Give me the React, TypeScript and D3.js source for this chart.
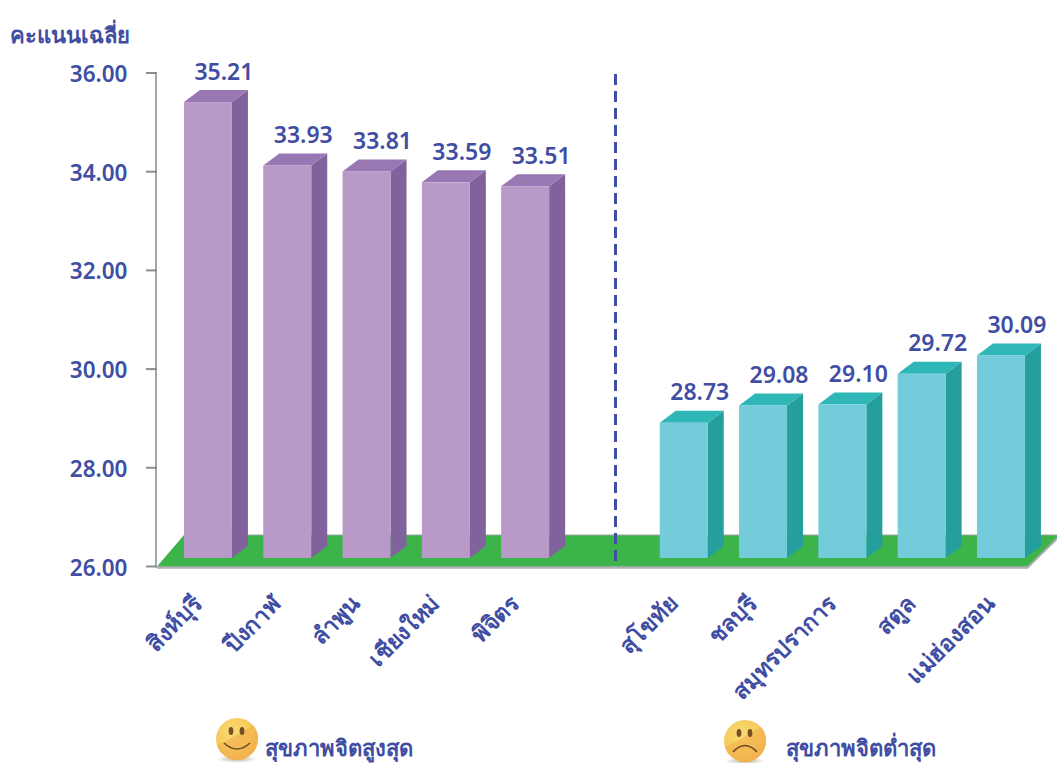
import React from "react";
import * as d3 from "d3";

const categories = ["สิงห์บุรี", "ปีงกาฬ", "ลำพูน", "เชียงใหม่", "พิจิตร", "", "สุโขทัย", "ชลบุรี", "สมุทรปราการ", "สตูล", "แม่ฮ่องสอน"];
const values: (number | null)[] = [35.21, 33.93, 33.81, 33.59, 33.51, null, 28.73, 29.08, 29.1, 29.72, 30.09];
const yTicks = [26, 28, 30, 32, 34, 36];
const yTitle = "คะแนนเฉลี่ย";
const legendHigh = "สุขภาพจิตสูงสุด";
const legendLow = "สุขภาพจิตต่ำสุด";

const W = 1057, H = 763;
const TEXT = "#3F4EA3";
const FONT = "'Noto Sans', 'Open Sans', sans-serif";
const DX = 11.3; // bar inset on the floor
const SX = 16, SY = -12; // bar depth

const x = d3.scaleBand<number>().domain(d3.range(categories.length)).range([157, 1029.3]).paddingInner(0.395).paddingOuter(0.1975);
const y = d3.scaleLinear().domain([26, 36]).range([566.5, 73]);
const barY = d3.scaleLinear().domain([26, 36]).range([558, 63]);

const pts = (a: number[][]) => a.map((p) => p.join(",")).join(" ");

function Smiley({ cx, cy, id, happy }: { cx: number; cy: number; id: string; happy: boolean }) {
  return (
    <g>
      <defs>
        <radialGradient id={id} cx="0.4" cy="0.35" r="0.75">
          <stop offset="0" stopColor="#F8DC72" />
          <stop offset="0.6" stopColor="#F6C95A" />
          <stop offset="1" stopColor="#EE9C3A" />
        </radialGradient>
        <radialGradient id={id + "s"}>
          <stop offset="0" stopColor="#8a7a60" stopOpacity="0.6" />
          <stop offset="1" stopColor="#8a7a60" stopOpacity="0" />
        </radialGradient>
      </defs>
      <ellipse cx={cx} cy={cy + 20} rx={20} ry={4} fill={`url(#${id}s)`} />
      <circle cx={cx} cy={cy} r={21} fill={`url(#${id})`} />
      <path d={`M${cx - 20},${cy + 6} Q${cx - 2},${cy - 2} ${cx + 16},${cy - 14} A21,21 0 0 1 ${cx + 20},${cy + 6} A21,21 0 0 1 ${cx - 20},${cy + 6}Z`} fill="#F3B451" opacity={0.75} />
      <ellipse cx={cx - 6} cy={cy - 8} rx={2.4} ry={4} fill="#7A4E26" />
      <ellipse cx={cx + 5} cy={cy - 8} rx={2.4} ry={4} fill="#7A4E26" />
      <path
        d={happy ? `M${cx - 13},${cy + 4} Q${cx},${cy + 16} ${cx + 13},${cy + 4}` : `M${cx - 12},${cy + 11} Q${cx},${cy - 2} ${cx + 12},${cy + 11}`}
        fill="none"
        stroke="#6B4A26"
        strokeWidth={1.5}
      />
    </g>
  );
}

export default function App() {
  const floorFrontY = y(26);
  return (
    <svg width={W} height={H} viewBox={`0 0 ${W} ${H}`} style={{ position: "absolute", left: 0, top: 0, background: "#fff" }} fontFamily={FONT}>
      {/* floor */}
      <polygon points={pts([[157, floorFrontY + 2], [1028, floorFrontY + 2], [1057, 540], [1057, 536], [184, 536]])} fill="#A9A9A9" />
      <polygon points={pts([[157, floorFrontY], [1027, floorFrontY], [1057, 537], [1057, 535], [184, 535]])} fill="#3CB44A" />
      <line x1={157} x2={1028} y1={floorFrontY + 1} y2={floorFrontY + 1} stroke="#B0B0B0" strokeWidth={2} />
      <line x1={184} x2={1057} y1={535} y2={535} stroke="#A0A0A0" strokeWidth={1} />

      {/* y axis */}
      <line x1={156} x2={156} y1={y(36)} y2={y(26) + 1} stroke="#A6A6A6" strokeWidth={2} />
      {yTicks.map((t) => (
        <g key={t}>
          <line x1={146} x2={157} y1={y(t)} y2={y(t)} stroke="#8C8C8C" strokeWidth={2} />
          <text x={127.5} y={y(t) + 9} textAnchor="end" fontSize={22.5} fontWeight={600} fill={TEXT}>
            {t.toFixed(2)}
          </text>
        </g>
      ))}
      <text x={10} y={43} fontSize={22} fontWeight={700} fill={TEXT}>{yTitle}</text>

      {/* bars */}
      {values.map((v, i) => {
        if (v == null) return null;
        const x0 = x(i)! + DX;
        const w = x.bandwidth();
        const top = barY(v);
        const bottom = barY(26);
        const purple = i < 5;
        return (
          <g key={i}>
            <polygon points={pts([[x0 + w, top], [x0 + w + SX, top + SY], [x0 + w + SX, bottom + SY], [x0 + w, bottom]])} fill={purple ? "#80639C" : "#259E9E"} />
            <polygon points={pts([[x0, top], [x0 + SX, top + SY], [x0 + w + SX, top + SY], [x0 + w, top]])} fill={purple ? "#9977B2" : "#2FB6B7"} />
            <rect x={x0} y={top} width={w} height={bottom - top} fill={purple ? "#B899C8" : "#74CBD9"} />
            <text x={x0 + w / 2 + 16} y={top - 22.5} textAnchor="middle" fontSize={23} fontWeight={600} fill={TEXT}>
              {v.toFixed(2)}
            </text>
            <text transform={`translate(${x0 + w / 2 - 19},${591}) rotate(-45)`} textAnchor="end" dominantBaseline="hanging" fontSize={23} fontWeight={700} fill={TEXT}>
              {categories[i]}
            </text>
          </g>
        );
      })}

      {/* divider */}
      <line x1={615.5} x2={615.5} y1={74} y2={566} stroke={TEXT} strokeWidth={3} strokeDasharray="11 6" />

      {/* legend */}
      <Smiley cx={237} cy={739} id="happy" happy />
      <text x={265} y={756} fontSize={22} fontWeight={700} fill={TEXT}>{legendHigh}</text>
      <Smiley cx={745} cy={741} id="sad" happy={false} />
      <text x={786} y={756} fontSize={22} fontWeight={700} fill={TEXT}>{legendLow}</text>
    </svg>
  );
}
